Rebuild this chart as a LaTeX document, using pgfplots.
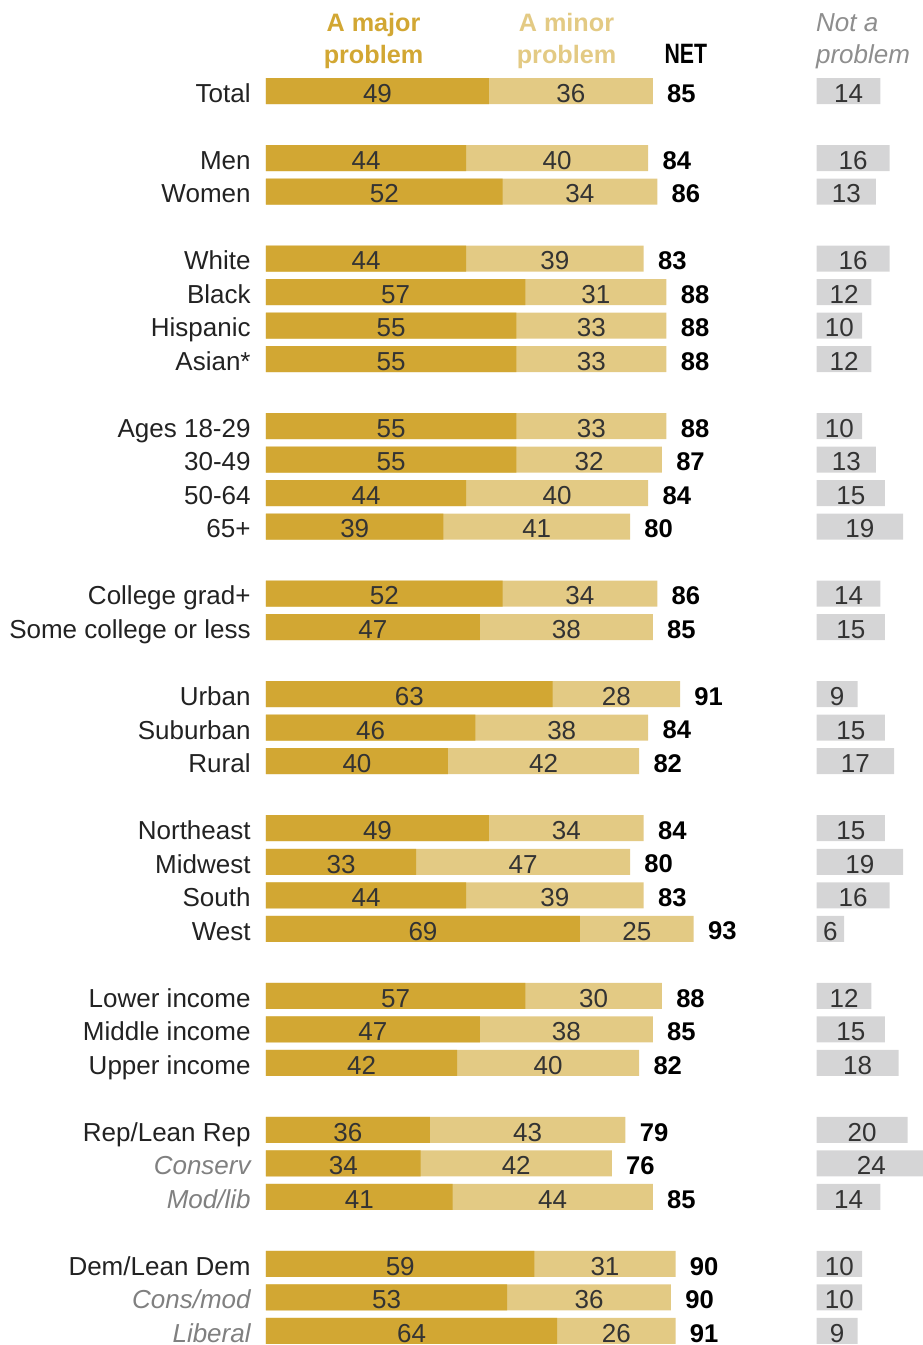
\documentclass[border=0pt]{standalone}
\usepackage{fontspec}
\setmainfont{Liberation Sans}
\newfontfamily\netfont[FakeStretch=0.76]{Liberation Sans}
\usepackage{pgfplots}
\pgfplotsset{compat=1.18}
\usepackage{pgfplotstable}
\definecolor{major}{HTML}{D2A733}
\definecolor{minor}{HTML}{E3CA84}
\definecolor{notp}{HTML}{D5D5D6}
\definecolor{numc}{HTML}{333333}
\definecolor{labc}{HTML}{222222}
\definecolor{grayhead}{HTML}{8E8E8E}
\definecolor{italc}{HTML}{808080}

\pgfplotstableread{
row major minor net notp
0 49 36 85 14
2 44 40 84 16
3 52 34 86 13
5 44 39 83 16
6 57 31 88 12
7 55 33 88 10
8 55 33 88 12
10 55 33 88 10
11 55 32 87 13
12 44 40 84 15
13 39 41 80 19
15 52 34 86 14
16 47 38 85 15
18 63 28 91 9
19 46 38 84 15
20 40 42 82 17
22 49 34 84 15
23 33 47 80 19
24 44 39 83 16
25 69 25 93 6
27 57 30 88 12
28 47 38 85 15
29 42 40 82 18
31 36 43 79 20
32 34 42 76 24
33 41 44 85 14
35 59 31 90 10
36 53 36 90 10
37 64 26 91 9
}\data

\newcommand{\labfont}{\fontsize{13pt}{15pt}\selectfont}
\newcommand{\numfont}{\fontsize{13pt}{15pt}\selectfont}
\newcommand{\netnumfont}{\bfseries\fontsize{12.8pt}{15pt}\selectfont}
\newcommand{\hdrfont}{\bfseries\fontsize{12.6pt}{15pt}\selectfont}

\pgfplotsset{rowaxis/.style={
  scale only axis, y dir=reverse, ymin=-0.6, ymax=37.4, height=636.69pt,
  axis line style={draw=none}, major tick style={draw=none}, xtick=\empty,
  clip=false, anchor=north west,
}}

\begin{document}
\begin{tikzpicture}
\useasboundingbox (0,0) rectangle (461pt,-672.5pt);

\begin{axis}[rowaxis, at={(133pt,-35.45pt)}, xmin=0, xmax=100, width=227.5pt,
  ytick={0,2,3,5,6,7,8,10,11,12,13,15,16,18,19,20,22,23,24,25,27,28,29,31,32,33,35,36,37},
  yticklabels={Total,Men,Women,White,Black,Hispanic,Asian*,Ages 18-29,30-49,50-64,65+,College grad+,Some college or less,Urban,Suburban,Rural,Northeast,Midwest,South,West,Lower income,Middle income,Upper income,Rep/Lean Rep,{\textcolor{italc}{\itshape Conserv}},{\textcolor{italc}{\itshape Mod/lib}},Dem/Lean Dem,{\textcolor{italc}{\itshape Cons/mod}},{\textcolor{italc}{\itshape Liberal}}},
  yticklabel style={font=\labfont, text=labc, inner sep=0pt, xshift=-7.5pt, yshift=-1pt, text height=9.3pt, text depth=0pt, anchor=east},
]
\addplot[xbar, bar width=13pt, bar shift=0pt, fill=minor, draw=none] table[x expr=\thisrow{major}+\thisrow{minor}, y=row]{\data};
\addplot[xbar, bar width=13pt, bar shift=0pt, fill=major, draw=none] table[x=major, y=row]{\data};
\addplot[draw=none, mark=none, nodes near coords, point meta=explicit symbolic, nodes near coords align={center},
  every node near coord/.append style={font=\numfont, text=numc, inner sep=0pt, yshift=-1pt, text height=9.3pt, text depth=0pt}]
  table[x expr=\thisrow{major}/2, y=row, meta=major]{\data};
\addplot[draw=none, mark=none, nodes near coords, point meta=explicit symbolic, nodes near coords align={center},
  every node near coord/.append style={font=\numfont, text=numc, inner sep=0pt, yshift=-1pt, text height=9.3pt, text depth=0pt}]
  table[x expr=\thisrow{major}+\thisrow{minor}/2, y=row, meta=minor]{\data};
\addplot[draw=none, mark=none, nodes near coords, point meta=explicit symbolic, nodes near coords align={center},
  every node near coord/.append style={font=\netnumfont, text=black, inner sep=0pt, anchor=west, xshift=7pt, yshift=-1pt, text height=9.2pt, text depth=0pt}]
  table[x expr=\thisrow{major}+\thisrow{minor}, y=row, meta=net]{\data};
\end{axis}

\begin{axis}[rowaxis, at={(408.35pt,-35.45pt)}, xmin=0, xmax=25, width=56.875pt, ytick=\empty]
\addplot[xbar, bar width=13pt, bar shift=0pt, fill=notp, draw=none] table[x=notp, y=row]{\data};
\addplot[draw=none, mark=none, nodes near coords, point meta=explicit symbolic, nodes near coords align={center},
  every node near coord/.append style={font=\numfont, text=numc, inner sep=0pt, yshift=-1pt, text height=9.3pt, text depth=0pt}]
  table[x expr=\thisrow{notp}/2, y=row, meta=notp]{\data};
\end{axis}

\node[anchor=base, text=major, font=\hdrfont, inner sep=0pt] at (186.75pt,-15.85pt) {A major};
\node[anchor=base, text=major, font=\hdrfont, inner sep=0pt] at (186.75pt,-31.65pt) {problem};
\node[anchor=base, text=minor, font=\hdrfont, inner sep=0pt] at (283.25pt,-15.85pt) {A minor};
\node[anchor=base, text=minor, font=\hdrfont, inner sep=0pt] at (283.25pt,-31.65pt) {problem};
\node[anchor=base, text=black, font={\netfont\bfseries\fontsize{14pt}{16pt}\selectfont}, inner sep=0pt] at (342.9pt,-31.65pt) {NET};
\node[anchor=base west, text=grayhead, font={\itshape\fontsize{13pt}{15pt}\selectfont}, inner sep=0pt] at (407.85pt,-15.85pt) {Not a};
\node[anchor=base west, text=grayhead, font={\itshape\fontsize{13pt}{15pt}\selectfont}, inner sep=0pt] at (407.85pt,-31.65pt) {problem};
\end{tikzpicture}
\end{document}
